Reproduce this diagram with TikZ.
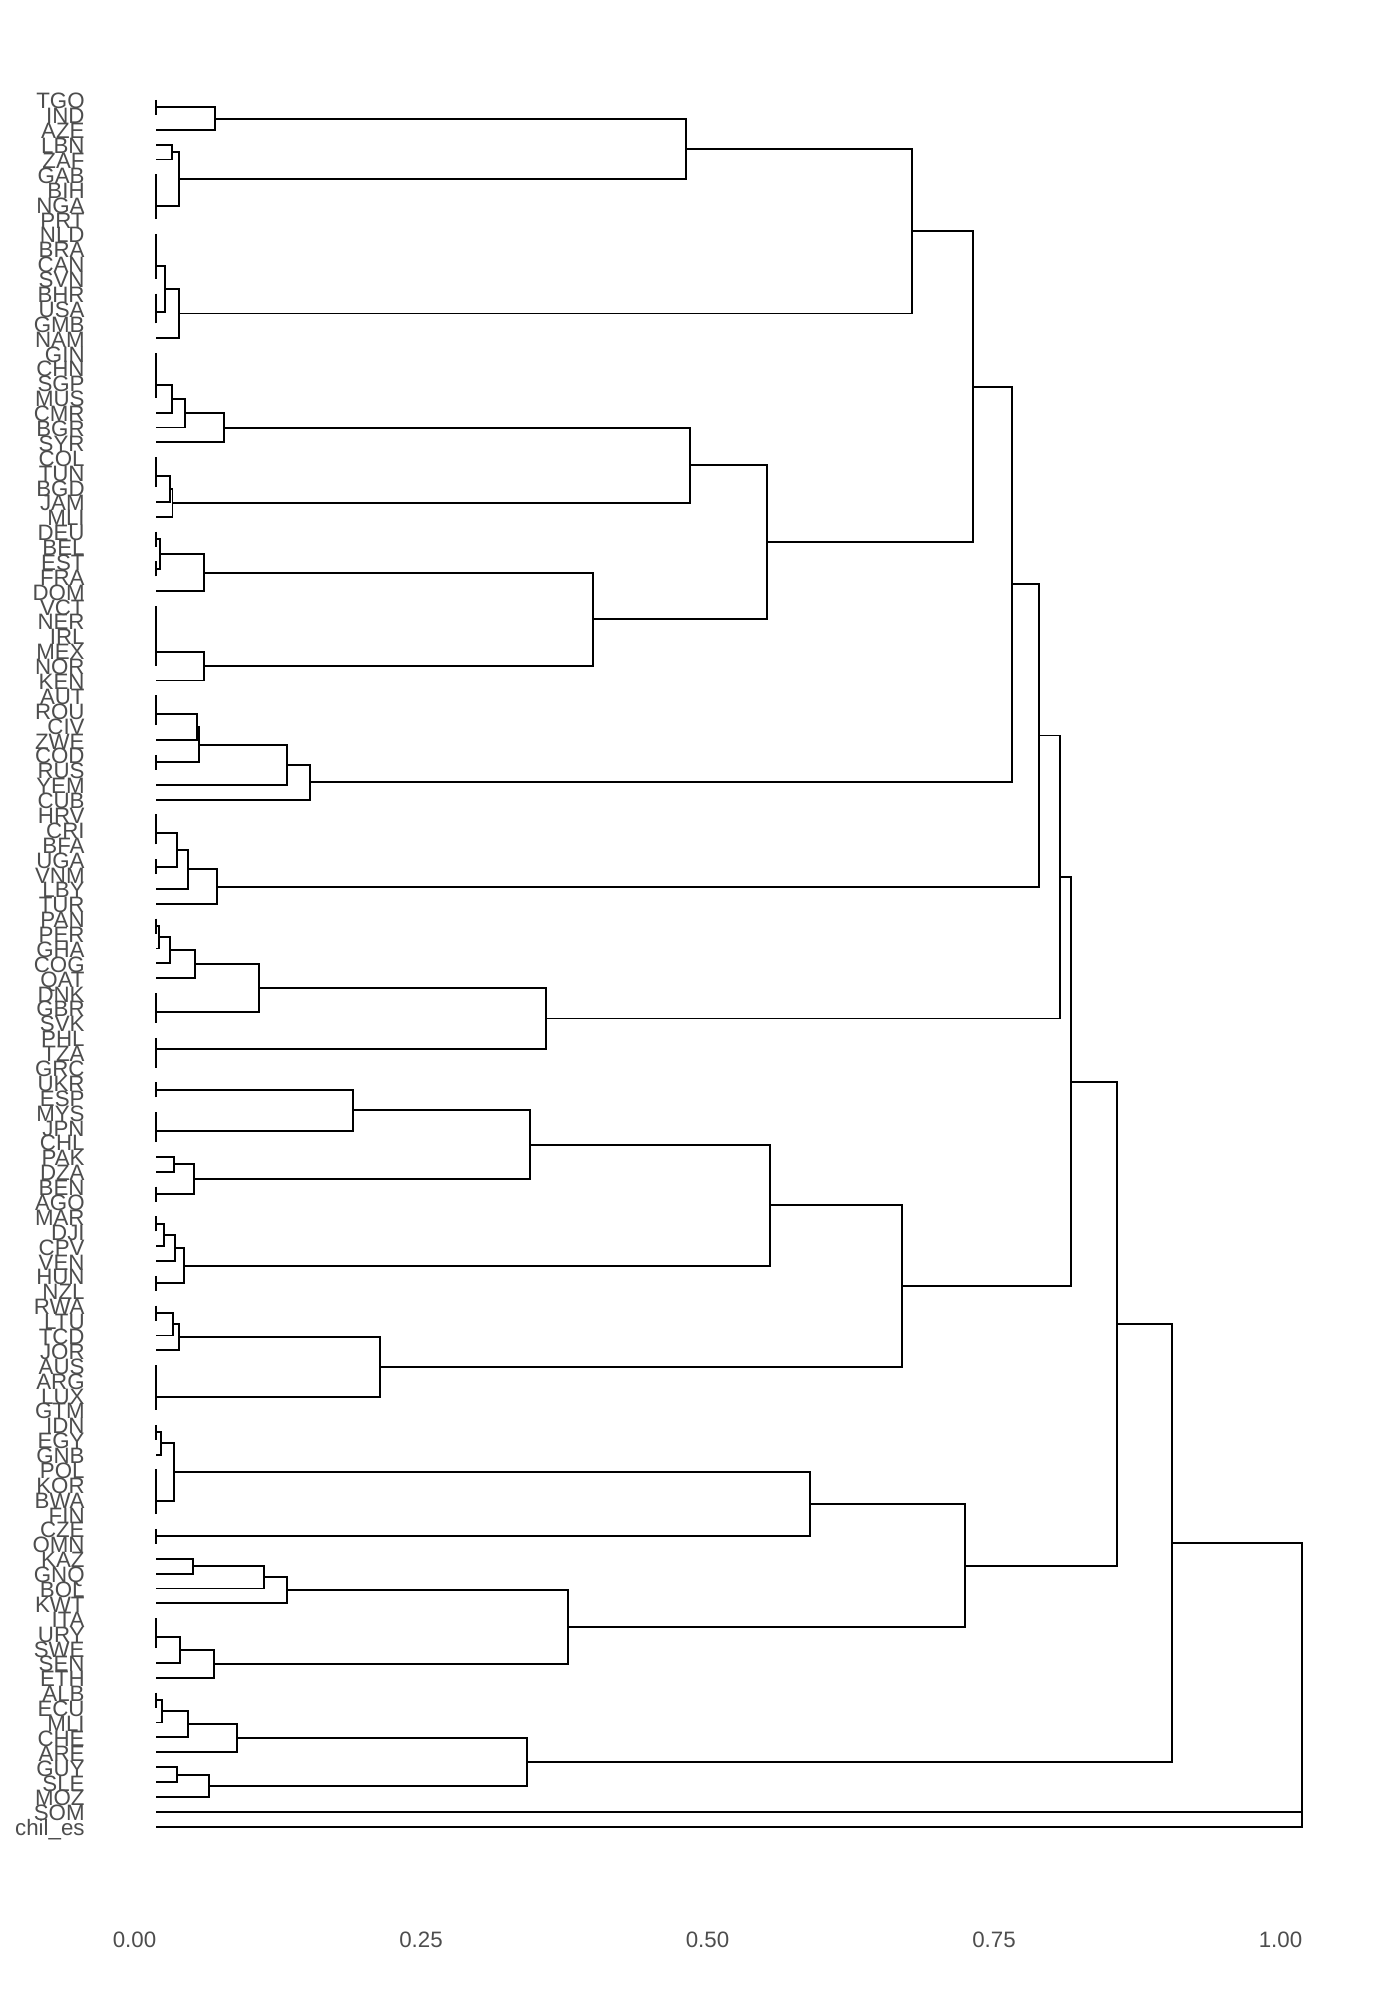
\documentclass[tikz,border=0pt]{standalone}
\usepackage{fontspec}
\setmainfont{Liberation Sans}
\usetikzlibrary{calc}
\definecolor{labgray}{HTML}{4D4D4D}
\newcommand\dmerge[4]{% name, height x, child1, child2
  \coordinate (mA) at ($(#3)!0.5!(#4)$);
  \coordinate (mB) at (#2,0);
  \coordinate (#1) at (mA -| mB);
  \draw[edge] (#3) -| (#1);
  \draw[edge] (#4) -| (#1);}
\newcommand\zmerge[3]{% name, child1, child2 (height zero)
  \coordinate (#1) at ($(#2)!0.5!(#3)$);
  \draw[edge] (#2) -- (#1);
  \draw[edge] (#3) -- (#1);}
\begin{document}
\begin{tikzpicture}[x=0.5pt,y=-0.5pt,
  edge/.style={draw=black,line width=0.95pt,line join=miter},
  lab/.style={anchor=base east,inner sep=0pt,text=labgray,font=\fontsize{11.15}{13}\selectfont},
  axlab/.style={anchor=base,inner sep=0pt,text=labgray,font=\fontsize{11.15}{13}\selectfont}]
\fill[white] (0,0) rectangle (1374,2000);
\useasboundingbox (0,0) rectangle (1374,2000);
% leaves and labels
\foreach \lab [count=\i from 0] in {TGO,IND,AZE,LBN,ZAF,GAB,BIH,NGA,PRT,NLD,BRA,CAN,SVN,BHR,USA,GMB,NAM,GIN,CHN,SGP,MUS,CMR,BGR,SYR,COL,TUN,BGD,JAM,MLI,DEU,BEL,EST,FRA,DOM,VCT,NER,IRL,MEX,NOR,KEN,AUT,ROU,CIV,ZWE,COD,RUS,YEM,CUB,HRV,CRI,BFA,UGA,VNM,LBY,TUR,PAN,PER,GHA,COG,QAT,DNK,GBR,SVK,PHL,TZA,GRC,UKR,ESP,MYS,JPN,CHL,PAK,DZA,BEN,AGO,MAR,DJI,CPV,VEN,HUN,NZL,RWA,LTU,TCD,JOR,AUS,ARG,LUX,GTM,IDN,EGY,GNB,POL,KOR,BWA,FIN,CZE,OMN,KAZ,GNQ,BOL,KWT,ITA,URY,SWE,SEN,ETH,ALB,ECU,MLI,CHE,ARE,GUY,SLE,MOZ,SOM,chil\_es}{
  \coordinate (L\i) at (156,{100+14.885*\i});
  \node[lab] (T\i) at (85,{109+14.885*\i}) {\lab};
}
% axis labels
\node[axlab] (ax0) at (134.5,1947.7) {0.00};
\node[axlab] (ax1) at (421,1947.7) {0.25};
\node[axlab] (ax2) at (707.5,1947.7) {0.50};
\node[axlab] (ax3) at (994,1947.7) {0.75};
\node[axlab] (ax4) at (1280.5,1947.7) {1.00};
% ---- tree ----
\zmerge{a01}{L0}{L1}
\dmerge{n012}{215}{a01}{L2}
\dmerge{n34}{171.7}{L3}{L4}
\zmerge{g56}{L5}{L6}\zmerge{g57}{g56}{L7}\zmerge{g58}{g57}{L8}
\dmerge{n38}{179}{n34}{g58}
\dmerge{n08}{686}{n012}{n38}
\zmerge{g9a}{L9}{L10}\zmerge{g9b}{g9a}{L11}\zmerge{g9c}{g9b}{L12}
\zmerge{g13a}{L13}{L14}\zmerge{g13b}{g13a}{L15}
\dmerge{n915}{165}{g9c}{g13b}
\dmerge{n916}{179}{n915}{L16}
\dmerge{J}{911.7}{n08}{n916}
\zmerge{g17a}{L17}{L18}\zmerge{g17b}{g17a}{L19}\zmerge{g17c}{g17b}{L20}
\dmerge{n1721}{171.7}{g17c}{L21}
\dmerge{n1722}{185}{n1721}{L22}
\dmerge{n1723}{224}{n1722}{L23}
\zmerge{g24a}{L24}{L25}\zmerge{g24b}{g24a}{L26}
\dmerge{n2427}{170}{g24b}{L27}
\dmerge{n2428}{172.5}{n2427}{L28}
\dmerge{n1728}{690}{n1723}{n2428}
\zmerge{g2930}{L29}{L30}\zmerge{g3132}{L31}{L32}
\dmerge{n2932}{160}{g2930}{g3132}
\dmerge{n2933}{204}{n2932}{L33}
\zmerge{g34a}{L34}{L35}\zmerge{g34b}{g34a}{L36}\zmerge{g34c}{g34b}{L37}\zmerge{g34d}{g34c}{L38}
\dmerge{n3439}{204}{g34d}{L39}
\dmerge{n2939}{593}{n2933}{n3439}
\dmerge{K}{767}{n1728}{n2939}
\dmerge{I}{972.7}{J}{K}
\zmerge{g40a}{L40}{L41}\zmerge{g40b}{g40a}{L42}
\dmerge{n4043}{196.7}{g40b}{L43}
\zmerge{g4445}{L44}{L45}
\dmerge{n4045}{199.3}{n4043}{g4445}
\dmerge{n4046}{287}{n4045}{L46}
\dmerge{n4047}{310}{n4046}{L47}
\dmerge{H}{1012.3}{I}{n4047}
\zmerge{g48a}{L48}{L49}\zmerge{g48b}{g48a}{L50}
\zmerge{g5152}{L51}{L52}
\dmerge{n4852}{176.7}{g48b}{g5152}
\dmerge{n4853}{188.3}{n4852}{L53}
\dmerge{n4854}{217.3}{n4853}{L54}
\dmerge{G}{1039.3}{H}{n4854}
\zmerge{g5556}{L55}{L56}
\dmerge{n5557}{159.3}{g5556}{L57}
\dmerge{n5558}{170}{n5557}{L58}
\dmerge{n5559}{195}{n5558}{L59}
\zmerge{g60a}{L60}{L61}\zmerge{g60b}{g60a}{L62}
\dmerge{n5562}{259}{n5559}{g60b}
\zmerge{g6465}{L64}{L65}\zmerge{g63b}{L63}{g6465}
\dmerge{E1}{546}{n5562}{g63b}
\dmerge{E}{1060}{G}{E1}
\zmerge{g6667}{L66}{L67}
\zmerge{g68a}{L68}{L69}\zmerge{g68b}{g68a}{L70}
\dmerge{n6670}{353.4}{g6667}{g68b}
\dmerge{n7172}{174}{L71}{L72}
\zmerge{g7374}{L73}{L74}
\dmerge{n7174}{194}{n7172}{g7374}
\dmerge{n6674}{530}{n6670}{n7174}
\zmerge{g7576}{L75}{L76}
\dmerge{n7577}{164.3}{g7576}{L77}
\dmerge{n7578}{175}{n7577}{L78}
\zmerge{g7980}{L79}{L80}
\dmerge{n7580}{184}{n7578}{g7980}
\dmerge{n6680}{770}{n6674}{n7580}
\zmerge{g8182}{L81}{L82}
\dmerge{n8183}{173.3}{g8182}{L83}
\dmerge{n8184}{179}{n8183}{L84}
\zmerge{g85a}{L85}{L86}\zmerge{g85b}{g85a}{L87}\zmerge{g85c}{g85b}{L88}
\dmerge{n8188}{380.2}{n8184}{g85c}
\dmerge{F}{902}{n6680}{n8188}
\dmerge{C}{1070.7}{E}{F}
\zmerge{g8990}{L89}{L90}
\dmerge{n8991}{161.3}{g8990}{L91}
\zmerge{g92a}{L92}{L93}\zmerge{g92b}{g92a}{L94}\zmerge{g92c}{g92b}{L95}
\dmerge{n8995}{174}{n8991}{g92c}
\zmerge{g9697}{L96}{L97}
\dmerge{n8997}{810}{n8995}{g9697}
\dmerge{n9899}{192.7}{L98}{L99}
\dmerge{n98100}{264}{n9899}{L100}
\dmerge{n98101}{287}{n98100}{L101}
\zmerge{g102a}{L102}{L103}\zmerge{g102b}{g102a}{L104}
\dmerge{n102105}{180}{g102b}{L105}
\dmerge{n102106}{213.7}{n102105}{L106}
\dmerge{n98106}{568}{n98101}{n102106}
\dmerge{D}{965}{n8997}{n98106}
\dmerge{B}{1116.7}{C}{D}
\zmerge{g107108}{L107}{L108}
\dmerge{n107109}{161.7}{g107108}{L109}
\dmerge{n107110}{188.3}{n107109}{L110}
\dmerge{n107111}{237}{n107110}{L111}
\dmerge{n112113}{176.7}{L112}{L113}
\dmerge{n112114}{209}{n112113}{L114}
\dmerge{n107114}{527}{n107111}{n112114}
\dmerge{A}{1172}{B}{n107114}
\dmerge{R1}{1301.7}{A}{L115}
\dmerge{R}{1301.7}{R1}{L116}
\end{tikzpicture}
\end{document}
